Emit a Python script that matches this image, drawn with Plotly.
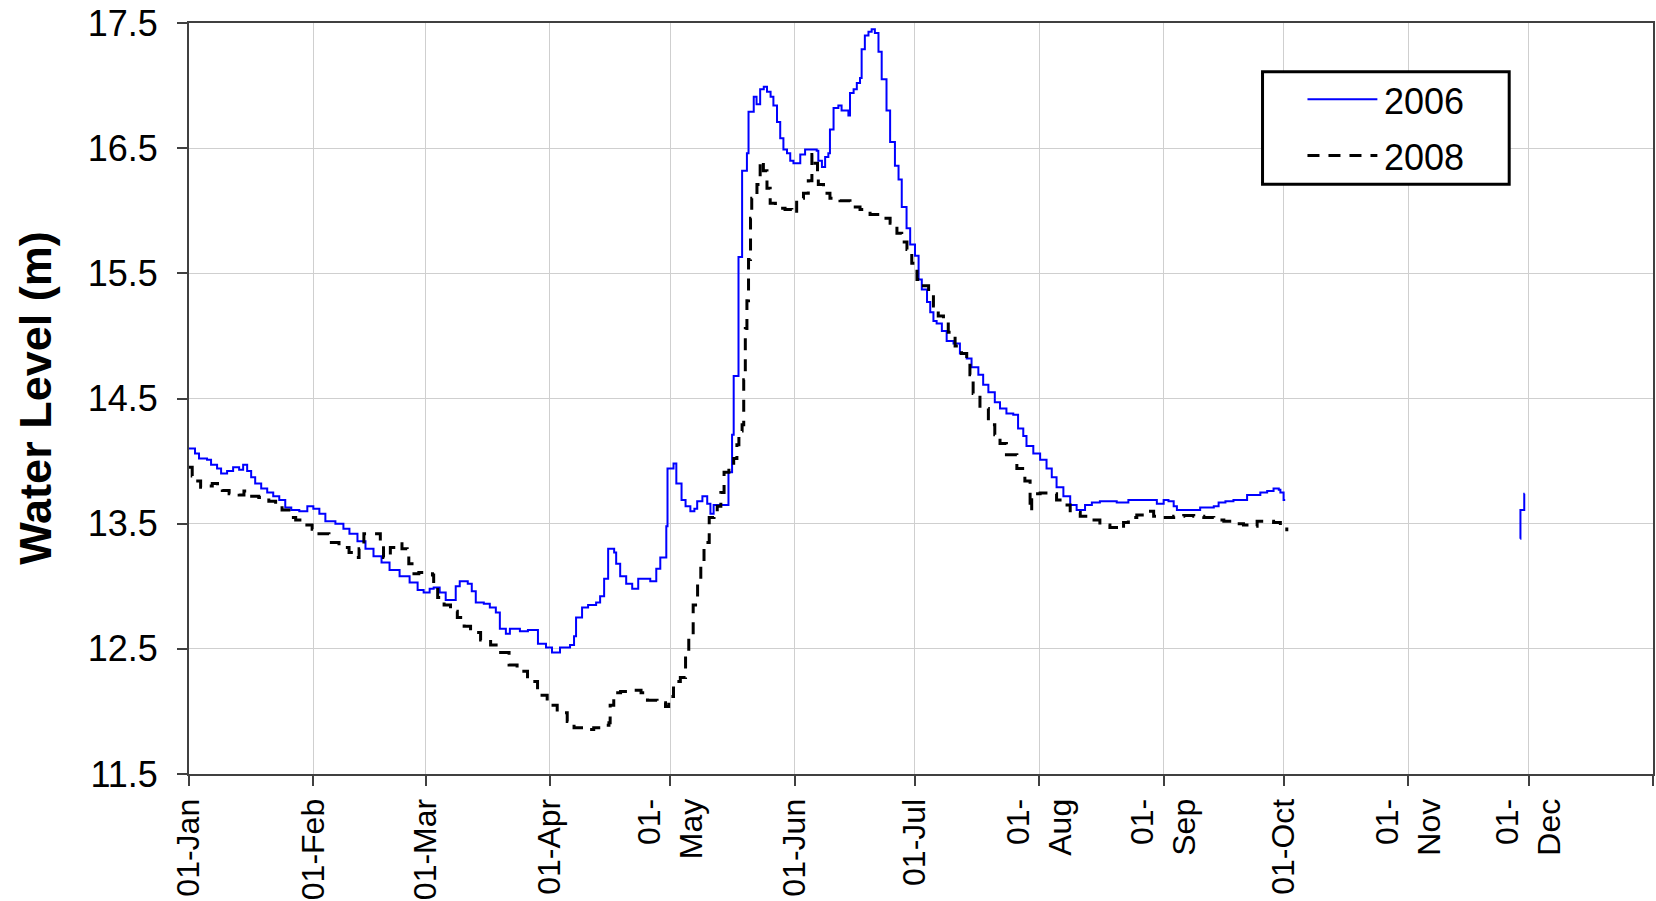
import numpy as np
import pandas as pd
import plotly.graph_objects as go

# ---- data: day-of-year breakpoints (step series) and water level (m) ----
days_2006 = [0, 1.5, 2.5, 4.5, 5.5, 7, 8, 9.5, 11, 12.5, 13.5, 14.5, 15.5, 16.5, 18, 19.5,
             21, 22.5, 24, 25.5, 27.5, 29.5, 31, 32.5, 34, 36.5, 38.5, 40, 42, 44, 46, 48,
             50, 52.5, 55, 57, 58.5, 60, 61, 62.5, 64, 66.5, 67.5, 69.5, 70.5, 71.5, 73.5,
             75, 76.5, 77.5, 79, 80, 82.5, 84.5, 87, 89, 90.5, 92.5, 95, 96, 96.5, 98, 99.5,
             101.5, 102.5, 103.5, 104.5, 106, 106.5, 107.5, 109, 110.5, 112, 115, 116.5,
             117.5, 119, 119.3, 120.8, 121.5, 122.8, 123.8, 125, 126, 126.7, 128, 129.2,
             130, 130.8, 134.2, 134.5, 135.4, 135.8, 137, 137.9, 139.1, 139.5, 140.8, 141.5,
             142.4, 143.3, 144.1, 145, 145.7, 146.6, 147.4, 148.2, 149.1, 149.9, 150.7,
             152.4, 153.6, 156.5, 156.9, 157.8, 158.6, 159.4, 159.8, 160.7, 161.9, 162.7,
             164.4, 164.8, 165.7, 166.5, 167.3, 167.7, 168.5, 169.4, 170.2, 171.0, 171.9,
             172.7, 173.9, 174.8, 176.0, 176.9, 177.7, 178.9, 179.8, 181.0, 181.9, 182.7,
             184.0, 184.8, 185.6, 186.4, 187.7, 188.9, 190.6, 192.2, 193.9, 195.1, 196.8,
             198, 199.3, 200.9, 202.2, 203.8, 205.5, 206.7, 208, 208.8, 210.5, 212.2, 213.8,
             215.1, 216.3, 218, 219.7, 221.3, 223.4, 225.1, 227.1, 231.3, 234.2, 241.3, 243,
             244.2, 245.5, 246.3, 252.1, 255.5, 256.7, 258.4, 260.4, 263.8, 265.5, 267.1,
             268.8, 270.4, 271.7, 272.1, 272.9, 273.3]
level_2006 = [14.10, 14.06, 14.02, 14.01, 13.97, 13.94, 13.90, 13.92, 13.95, 13.93, 13.97,
              13.92, 13.87, 13.82, 13.78, 13.75, 13.72, 13.69, 13.63, 13.61, 13.60, 13.64,
              13.62, 13.58, 13.52, 13.50, 13.46, 13.42, 13.36, 13.30, 13.24, 13.19, 13.13,
              13.08, 13.03, 12.97, 12.95, 12.98, 12.99, 12.95, 12.89, 13.00, 13.04, 13.02,
              12.96, 12.87, 12.86, 12.83, 12.79, 12.66, 12.62, 12.66, 12.64, 12.65, 12.54,
              12.51, 12.47, 12.51, 12.53, 12.60, 12.75, 12.83, 12.85, 12.87, 12.92, 13.06,
              13.30, 13.27, 13.18, 13.08, 13.02, 12.98, 13.06, 13.04, 13.14, 13.23, 13.48,
              13.94, 13.98, 13.82, 13.69, 13.64, 13.60, 13.62, 13.68, 13.72, 13.66, 13.58,
              13.65, 13.65, 13.91, 14.21, 14.68, 15.63, 16.32, 16.46, 16.79, 16.91, 16.85,
              16.97, 16.99, 16.95, 16.91, 16.84, 16.71, 16.58, 16.49, 16.46, 16.40, 16.38,
              16.45, 16.49, 16.48, 16.40, 16.35, 16.43, 16.46, 16.65, 16.82, 16.84, 16.80,
              16.76, 16.94, 16.97, 17.02, 17.06, 17.29, 17.40, 17.43, 17.45, 17.42, 17.27,
              17.05, 16.80, 16.55, 16.36, 16.25, 16.03, 15.86, 15.73, 15.64, 15.45, 15.37,
              15.27, 15.19, 15.12, 15.10, 15.04, 14.96, 14.94, 14.86, 14.82, 14.75, 14.69,
              14.61, 14.55, 14.47, 14.42, 14.38, 14.37, 14.26, 14.20, 14.12, 14.06, 14.01,
              13.94, 13.87, 13.79, 13.72, 13.65, 13.61, 13.65, 13.67, 13.68, 13.67, 13.69,
              13.66, 13.69, 13.68, 13.64, 13.61, 13.63, 13.64, 13.67, 13.68, 13.69, 13.73,
              13.73, 13.75, 13.76, 13.78, 13.77, 13.75, 13.69, 13.69]

# short late-November record for 2006
days_2006_nov = [331.9, 331.95, 332.9, 333.0]
level_2006_nov = [13.38, 13.61, 13.74, 13.74]

days_2008 = [0, 0.8, 1.7, 2.9, 4.2, 5.8, 7.1, 8.3, 10, 12.5, 13.7, 14.9, 17.4, 19.9, 21.6,
             23.2, 24.9, 26.6, 28.6, 30.7, 32.4, 34.9, 37.4, 39.9, 41.5, 42.4, 43.6, 47.7,
             48.5, 50.2, 51.5, 53.1, 54.4, 54.8, 55.6, 57.3, 58.9, 60.7, 61, 62, 63.6, 65.2,
             66.9, 68.6, 70.2, 72.7, 75.2, 77.7, 79.8, 81.8, 84.4, 86.9, 89.3, 91.8, 94.3,
             96, 98.4, 100.9, 103, 104.7, 105.0, 105.9, 107.6, 110, 112.7, 114.3, 116.7,
             118.8, 119.6, 120.8, 122.5, 123.8, 124.6, 125.7, 126.8, 127.6, 128.4, 129.7,
             130.9, 131.7, 132.6, 133.4, 134.6, 135.8, 136.6, 137.1, 137.9, 138.3, 138.7,
             139.1, 139.5, 140.0, 140.3, 141.6, 142.4, 143.2, 144.1, 144.9, 146.2, 147.4,
             148.6, 150.3, 151.5, 153.2, 154.4, 155.3, 156.1, 156.7, 156.9, 158.2, 159.8,
             162.3, 164.8, 167.3, 169.8, 172.3, 174.8, 176.5, 177.7, 179.0, 180.2, 181.5,
             183.1, 184.4, 185.6, 186.8, 188.1, 189.3, 191, 192.6, 193.9, 194.7, 195.5,
             197.2, 199.3, 200.9, 202.2, 203.8, 206.4, 208.4, 209.7, 210.1, 212.2, 214.7,
             216.3, 218, 219.7, 222.2, 224.7, 227.1, 229.6, 232.1, 233, 234.2, 236.3, 238.8,
             240.5, 243, 245.5, 248, 250.5, 253, 255.5, 258, 260.4, 262.9, 264.6, 266.3,
             268.8, 270.4, 272.1, 273.7]
level_2008 = [13.95, 13.88, 13.84, 13.79, 13.80, 13.82, 13.80, 13.765, 13.74, 13.73, 13.76,
              13.72, 13.71, 13.68, 13.65, 13.61, 13.55, 13.53, 13.49, 13.455, 13.42, 13.35,
              13.31, 13.27, 13.23, 13.30, 13.42, 13.34, 13.23, 13.31, 13.34, 13.30, 13.26,
              13.18, 13.10, 13.11, 13.10, 13.09, 12.99, 12.91, 12.85, 12.80, 12.75, 12.68,
              12.63, 12.57, 12.53, 12.47, 12.37, 12.32, 12.24, 12.13, 12.05, 11.99, 11.92,
              11.87, 11.855, 11.87, 11.89, 11.91, 12.05, 12.15, 12.16, 12.17, 12.15, 12.09,
              12.07, 12.04, 12.12, 12.24, 12.27, 12.455, 12.61, 12.85, 13.05, 13.20, 13.35,
              13.55, 13.58, 13.64, 13.75, 13.91, 13.97, 14.02, 14.13, 14.24, 14.29, 14.65,
              15.06, 15.28, 15.61, 15.94, 16.10, 16.21, 16.40, 16.32, 16.18, 16.06, 16.03,
              16.02, 16.01, 15.98, 16.10, 16.14, 16.24, 16.45, 16.38, 16.27, 16.21, 16.14,
              16.10, 16.08, 16.03, 16.01, 15.97, 15.94, 15.90, 15.82, 15.75, 15.69, 15.58,
              15.45, 15.40, 15.33, 15.24, 15.16, 15.11, 15.03, 14.92, 14.86, 14.80, 14.69,
              14.54, 14.42, 14.29, 14.21, 14.14, 14.05, 13.94, 13.84, 13.60, 13.74, 13.745,
              13.74, 13.69, 13.65, 13.59, 13.56, 13.53, 13.49, 13.47, 13.455, 13.51, 13.55,
              13.57, 13.60, 13.56, 13.55, 13.56, 13.565, 13.56, 13.55, 13.53, 13.52, 13.50,
              13.49, 13.48, 13.52, 13.52, 13.51, 13.48, 13.44]

month_starts = ["2006-01-01", "2006-02-01", "2006-03-01", "2006-04-01", "2006-05-01",
                "2006-06-01", "2006-07-01", "2006-08-01", "2006-09-01", "2006-10-01",
                "2006-11-01", "2006-12-01", "2007-01-01"]
month_labels = ["01-Jan", "01-Feb", "01-Mar", "01-Apr", "01-<br>May", "01-Jun", "01-Jul",
                "01-<br>Aug", "01-<br>Sep", "01-Oct", "01-<br>Nov", "01-<br>Dec", ""]
level_ticks = [11.5, 12.5, 13.5, 14.5, 15.5, 16.5, 17.5]

series_names = ["2006", "2008"]

BASE = pd.Timestamp("2006-01-01")


def to_dates(days):
    return BASE + pd.to_timedelta(np.asarray(days, dtype=float), unit="D")


FONT = "Liberation Sans, Arial, sans-serif"
BLUE = "#0000FF"
BLACK = "#000000"
DASH = "12px,9px"

fig = go.Figure()
fig.add_trace(go.Scatter(x=to_dates(days_2006), y=level_2006, mode="lines", name=series_names[0],
                         line=dict(color=BLUE, width=2, shape="hv"), showlegend=False))
fig.add_trace(go.Scatter(x=to_dates(days_2006_nov), y=level_2006_nov, mode="lines",
                         name=series_names[0], line=dict(color=BLUE, width=2, shape="hv"),
                         showlegend=False))
fig.add_trace(go.Scatter(x=to_dates(days_2008), y=level_2008, mode="lines", name=series_names[1],
                         line=dict(color=BLACK, width=3, shape="hv", dash=DASH),
                         showlegend=False))

# plot-area geometry in pixels
W_FIG, H_FIG = 1656, 901
L, R, T, B = 189, 1, 23, 124
PW = W_FIG - L - R
PH = H_FIG - T - B


def px_x(px):
    return (px - L) / PW


def px_y(py):
    return (H_FIG - B - py) / PH


axis_col = "#404040"
grid_col = "#cfcfcf"

fig.update_layout(
    width=W_FIG, height=H_FIG,
    margin=dict(l=L, r=R, t=T, b=B, pad=0),
    paper_bgcolor="white", plot_bgcolor="white",
    font=dict(family=FONT, color="black"),
    xaxis=dict(
        type="date", range=["2006-01-01", "2007-01-01"],
        tickmode="array", tickvals=month_starts, ticktext=month_labels,
        tickangle=-90, tickfont=dict(size=32, family=FONT, color="black"),
        ticks="outside", ticklen=10, tickwidth=2, tickcolor=axis_col,
        showline=True, linecolor=axis_col, linewidth=2, mirror=True,
        showgrid=True, gridcolor=grid_col, gridwidth=1, zeroline=False,
    ),
    yaxis=dict(
        range=[11.5, 17.5], tickmode="array", tickvals=level_ticks,
        ticktext=[f"{v:.1f}" for v in level_ticks],
        tickfont=dict(size=36, family=FONT, color="black"),
        ticks="outside", ticklen=10, tickwidth=2, tickcolor=axis_col,
        ticklabelstandoff=12,
        showline=True, linecolor=axis_col, linewidth=2, mirror=True,
        showgrid=True, gridcolor=grid_col, gridwidth=1, zeroline=False,
    ),
)

# y-axis title
fig.add_annotation(text="<b>Water Level (m)</b>", xref="paper", yref="paper",
                   x=px_x(35), y=0.5, xanchor="center", yanchor="middle",
                   textangle=-90, showarrow=False,
                   font=dict(size=45, family=FONT, color="black"))

# legend box
fig.add_shape(type="rect", xref="paper", yref="paper",
              x0=px_x(1264), x1=px_x(1511), y0=px_y(185), y1=px_y(72),
              line=dict(color="black", width=3), fillcolor="white", layer="above")
legend_rows = [(series_names[0], BLUE, 2, "solid", 99.5),
               (series_names[1], BLACK, 3, DASH, 156)]
for name, col, w, dash, ypix in legend_rows:
    fig.add_shape(type="line", xref="paper", yref="paper",
                  x0=px_x(1309), x1=px_x(1379), y0=px_y(ypix), y1=px_y(ypix),
                  line=dict(color=col, width=w, dash=dash), layer="above")
    fig.add_annotation(text=name, xref="paper", yref="paper",
                       x=px_x(1384), y=px_y(ypix + 2), xanchor="left", yanchor="middle",
                       showarrow=False, font=dict(size=36, family=FONT, color="black"))

fig.write_html("out.html")
